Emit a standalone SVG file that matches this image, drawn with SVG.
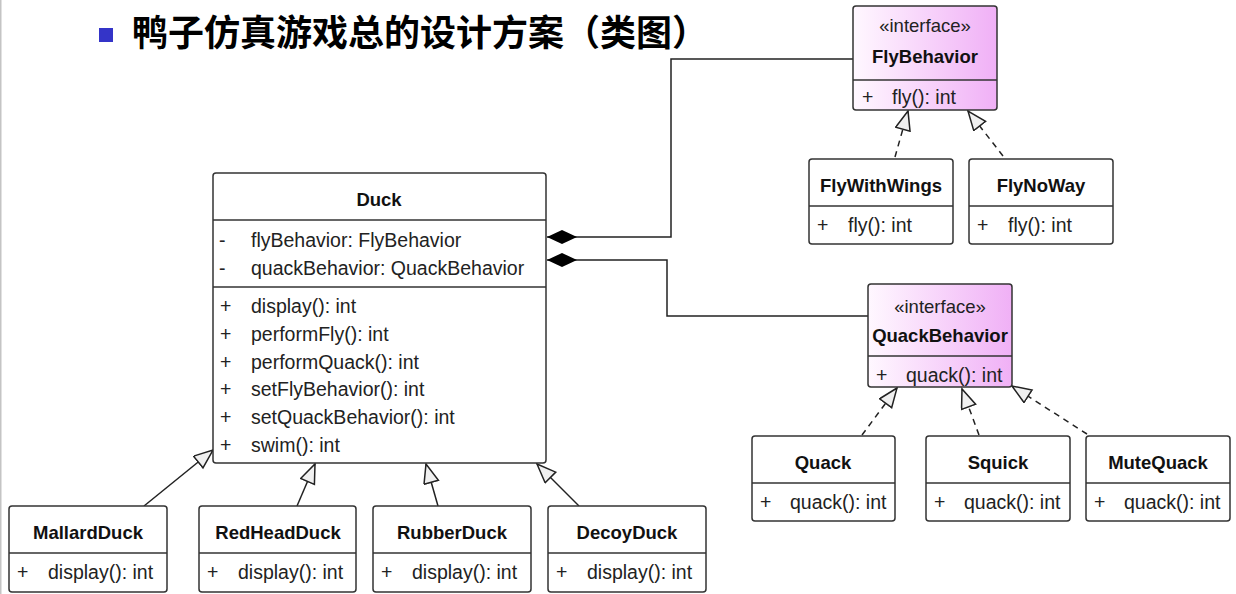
<svg xmlns="http://www.w3.org/2000/svg" width="1236" height="594" viewBox="0 0 1236 594">
<style>
.box{fill:#fff;stroke:#333;stroke-width:1.5}
.ibox{fill:url(#pink);stroke:#333;stroke-width:1.5}
.div{stroke:#333;stroke-width:1.5}
.name{font-family:"Liberation Sans",Arial,sans-serif;font-weight:bold;font-size:18.5px;fill:#111;text-anchor:middle}
.st{font-family:"Liberation Sans",Arial,sans-serif;font-size:18.5px;fill:#222;text-anchor:middle}
.m{font-family:"Liberation Sans",Arial,sans-serif;font-size:19.5px;fill:#222}
.conn{fill:none;stroke:#222;stroke-width:1.5}
.dash{stroke-dasharray:6 5}
.gen{marker-end:url(#tri)}
</style>
<defs>
<linearGradient id="pink" x1="0" y1="0" x2="1" y2="0">
<stop offset="0" stop-color="#fff8ff"/>
<stop offset="1" stop-color="#f0b0f6"/>
</linearGradient>
<marker id="tri" markerUnits="userSpaceOnUse" markerWidth="24" markerHeight="20" refX="20" refY="8" orient="auto" viewBox="0 0 24 20">
<path d="M1,0.5 L20,8 L1,15.5 z" fill="#f0f0f0" stroke="#222" stroke-width="1.5"/>
</marker>
<marker id="dia" markerUnits="userSpaceOnUse" markerWidth="32" markerHeight="16" refX="0" refY="7" orient="auto" viewBox="0 0 32 16">
<path d="M0,7 L15,0 L30,7 L15,14 z" fill="#000" stroke="none"/>
</marker>
</defs>
<rect x="0" y="0" width="1236" height="594" fill="#fff"/>
<line x1="0.75" y1="0" x2="0.75" y2="594" stroke="#c4c4c4" stroke-width="1.5"/>

<g id="title">
<rect x="99" y="28" width="14" height="14" fill="#3434c8"/>
<text x="132" y="46" font-family="Noto Sans CJK SC, sans-serif" font-weight="bold" font-size="36" fill="#000">鸭子仿真游戏总的设计方案（类图）</text>
</g>

<g id="connectors">
<path class="conn" d="M547,237 H671 V59 H853" marker-start="url(#dia)"/>
<path class="conn" d="M547,260 H667 V316 H868" marker-start="url(#dia)"/>
<path class="conn dash gen" d="M895,157 L908,111"/>
<path class="conn dash gen" d="M1003,156 L968,111"/>
<path class="conn dash gen" d="M862,435 L897,388"/>
<path class="conn dash gen" d="M979,435 L962,389"/>
<path class="conn dash gen" d="M1087,434 L1012,386"/>
<path class="conn gen" d="M144,506 L213,450"/>
<path class="conn gen" d="M297,506 L315,464"/>
<path class="conn gen" d="M438,506 L426,464"/>
<path class="conn gen" d="M579,506 L537,464"/>
</g>

<g id="FlyBehavior">
<rect class="ibox" x="853" y="6" width="144" height="104" rx="3"/>
<line class="div" x1="853" y1="80" x2="997" y2="80"/>
<text class="st" x="925" y="32">«interface»</text>
<text class="name" x="925" y="63">FlyBehavior</text>
<text class="m" x="862" y="104">+</text>
<text class="m" x="892" y="104">fly(): int</text>
</g>

<g id="FlyWithWings">
<rect class="box" x="809" y="159" width="144" height="85" rx="3"/>
<line class="div" x1="809" y1="206" x2="953" y2="206"/>
<text class="name" x="881" y="192">FlyWithWings</text>
<text class="m" x="817" y="232">+</text>
<text class="m" x="848" y="232">fly(): int</text>
</g>

<g id="FlyNoWay">
<rect class="box" x="969" y="159" width="144" height="85" rx="3"/>
<line class="div" x1="969" y1="206" x2="1113" y2="206"/>
<text class="name" x="1041" y="192">FlyNoWay</text>
<text class="m" x="977" y="232">+</text>
<text class="m" x="1008" y="232">fly(): int</text>
</g>

<g id="Duck">
<rect class="box" x="213" y="173" width="333" height="290" rx="3"/>
<line class="div" x1="213" y1="220" x2="546" y2="220"/>
<line class="div" x1="213" y1="287" x2="546" y2="287"/>
<text class="name" x="379" y="206">Duck</text>
<text class="m" x="219" y="247">-</text>
<text class="m" x="251" y="247">flyBehavior: FlyBehavior</text>
<text class="m" x="219" y="275">-</text>
<text class="m" x="251" y="275">quackBehavior: QuackBehavior</text>
<text class="m" x="220" y="313">+</text>
<text class="m" x="251" y="313">display(): int</text>
<text class="m" x="220" y="341">+</text>
<text class="m" x="251" y="341">performFly(): int</text>
<text class="m" x="220" y="369">+</text>
<text class="m" x="251" y="369">performQuack(): int</text>
<text class="m" x="220" y="396">+</text>
<text class="m" x="251" y="396">setFlyBehavior(): int</text>
<text class="m" x="220" y="424">+</text>
<text class="m" x="251" y="424">setQuackBehavior(): int</text>
<text class="m" x="220" y="452">+</text>
<text class="m" x="251" y="452">swim(): int</text>
</g>

<g id="QuackBehavior">
<rect class="ibox" x="868" y="284" width="144" height="103" rx="3"/>
<line class="div" x1="868" y1="356" x2="1012" y2="356"/>
<text class="st" x="940" y="313">«interface»</text>
<text class="name" x="940" y="342">QuackBehavior</text>
<text class="m" x="876" y="382">+</text>
<text class="m" x="906" y="382">quack(): int</text>
</g>

<g id="Quack">
<rect class="box" x="752" y="436" width="143" height="85" rx="3"/>
<line class="div" x1="752" y1="483" x2="895" y2="483"/>
<text class="name" x="823" y="469">Quack</text>
<text class="m" x="760" y="509">+</text>
<text class="m" x="790" y="509">quack(): int</text>
</g>

<g id="Squick">
<rect class="box" x="926" y="436" width="144" height="85" rx="3"/>
<line class="div" x1="926" y1="483" x2="1070" y2="483"/>
<text class="name" x="998" y="469">Squick</text>
<text class="m" x="934" y="509">+</text>
<text class="m" x="964" y="509">quack(): int</text>
</g>

<g id="MuteQuack">
<rect class="box" x="1086" y="436" width="144" height="85" rx="3"/>
<line class="div" x1="1086" y1="483" x2="1230" y2="483"/>
<text class="name" x="1158" y="469">MuteQuack</text>
<text class="m" x="1094" y="509">+</text>
<text class="m" x="1124" y="509">quack(): int</text>
</g>

<g id="MallardDuck">
<rect class="box" x="9" y="506" width="158" height="86" rx="3"/>
<line class="div" x1="9" y1="553" x2="167" y2="553"/>
<text class="name" x="88" y="539">MallardDuck</text>
<text class="m" x="17" y="579">+</text>
<text class="m" x="48" y="579">display(): int</text>
</g>

<g id="RedHeadDuck">
<rect class="box" x="199" y="506" width="157" height="86" rx="3"/>
<line class="div" x1="199" y1="553" x2="356" y2="553"/>
<text class="name" x="278" y="539">RedHeadDuck</text>
<text class="m" x="207" y="579">+</text>
<text class="m" x="238" y="579">display(): int</text>
</g>

<g id="RubberDuck">
<rect class="box" x="373" y="506" width="158" height="86" rx="3"/>
<line class="div" x1="373" y1="553" x2="531" y2="553"/>
<text class="name" x="452" y="539">RubberDuck</text>
<text class="m" x="381" y="579">+</text>
<text class="m" x="412" y="579">display(): int</text>
</g>

<g id="DecoyDuck">
<rect class="box" x="548" y="506" width="158" height="86" rx="3"/>
<line class="div" x1="548" y1="553" x2="706" y2="553"/>
<text class="name" x="627" y="539">DecoyDuck</text>
<text class="m" x="556" y="579">+</text>
<text class="m" x="587" y="579">display(): int</text>
</g>
</svg>
